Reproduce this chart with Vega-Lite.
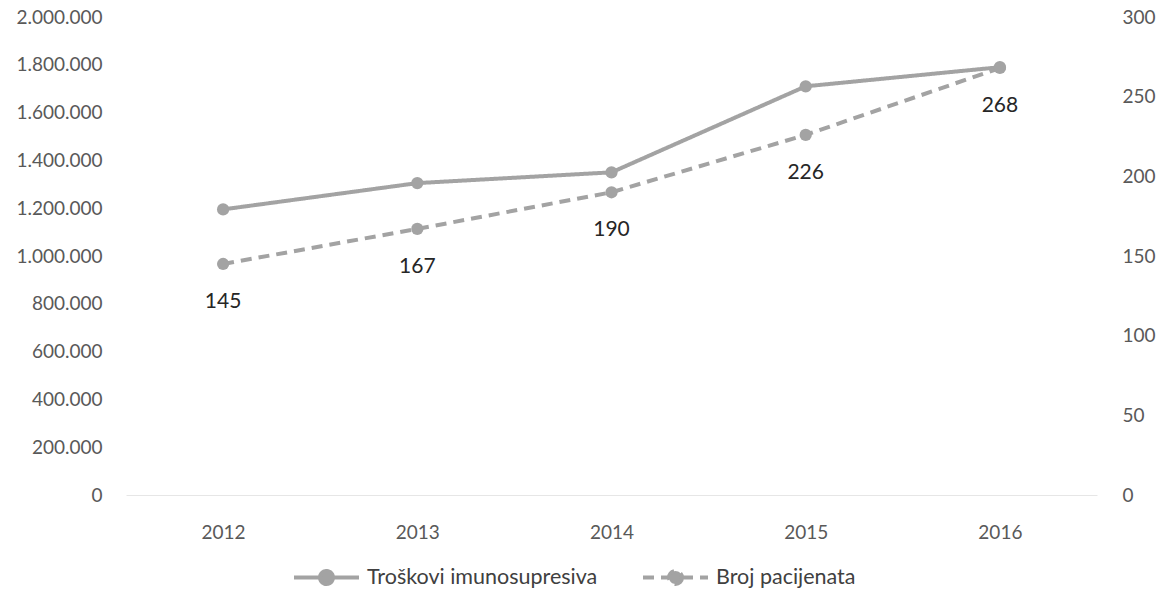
{
  "$schema": "https://vega.github.io/schema/vega-lite/v6.json",
  "width": 971,
  "height": 478,
  "autosize": {"type": "none"},
  "padding": {"left": 126, "top": 17, "right": 63, "bottom": 95},
  "background": "white",
  "config": {
    "view": {"stroke": null},
    "font": "Lato",
    "axis": {"labelFont": "Lato", "labelColor": "#595959", "labelFontSize": 19, "ticks": false, "grid": false, "title": null}
  },
  "data": {
    "values": [
      {"year": "2012", "series": "Troškovi imunosupresiva", "value": 1195000},
      {"year": "2013", "series": "Troškovi imunosupresiva", "value": 1305000},
      {"year": "2014", "series": "Troškovi imunosupresiva", "value": 1350000},
      {"year": "2015", "series": "Troškovi imunosupresiva", "value": 1710000},
      {"year": "2016", "series": "Troškovi imunosupresiva", "value": 1790000},
      {"year": "2012", "series": "Broj pacijenata", "value": 145},
      {"year": "2013", "series": "Broj pacijenata", "value": 167},
      {"year": "2014", "series": "Broj pacijenata", "value": 190},
      {"year": "2015", "series": "Broj pacijenata", "value": 226},
      {"year": "2016", "series": "Broj pacijenata", "value": 268}
    ]
  },
  "encoding": {
    "x": {
      "field": "year",
      "type": "ordinal",
      "scale": {"type": "point", "padding": 0.5},
      "axis": {"labelAngle": 0, "domain": true, "domainColor": "#e6e6e6", "domainWidth": 1, "labelPadding": 28}
    }
  },
  "layer": [
    {
      "transform": [{"filter": "datum.series === 'Troškovi imunosupresiva'"}],
      "mark": {"type": "line", "strokeWidth": 4, "point": {"size": 150, "filled": true}},
      "encoding": {
        "y": {
          "field": "value",
          "type": "quantitative",
          "scale": {"domain": [0, 2000000]},
          "axis": {
            "orient": "left",
            "domain": false,
            "labelPadding": 24,
            "values": [0, 200000, 400000, 600000, 800000, 1000000, 1200000, 1400000, 1600000, 1800000, 2000000],
            "labelExpr": "replace(replace(format(datum.value, ','), ',', '.'), ',', '.')"
          }
        },
        "color": {
          "field": "series",
          "type": "nominal",
          "scale": {"domain": ["Troškovi imunosupresiva", "Broj pacijenata"], "range": ["#a3a3a3", "#a3a3a3"]},
          "legend": {
            "orient": "none",
            "legendX": 166,
            "legendY": 526,
            "direction": "horizontal",
            "title": null,
            "padding": 0,
            "labelFont": "Lato",
            "labelFontSize": 21.5,
            "labelColor": "#404040",
            "labelOffset": 6,
            "labelLimit": 500,
            "columnPadding": 37,
            "symbolType": "M-1,0L-0.2,0M0.2,0L1,0M0.2,0A0.2,0.2,0,1,1,-0.2,0A0.2,0.2,0,1,1,0.2,0Z",
            "symbolSize": 4225,
            "symbolStrokeWidth": 4,
            "encode": {"symbols": {"update": {"fill": {"value": "#a3a3a3"}}}}
          }
        },
        "strokeDash": {
          "field": "series",
          "type": "nominal",
          "scale": {"domain": ["Troškovi imunosupresiva", "Broj pacijenata"], "range": [[1, 0], [11, 7]]}
        }
      }
    },
    {
      "transform": [{"filter": "datum.series === 'Broj pacijenata'"}],
      "encoding": {
        "y": {
          "field": "value",
          "type": "quantitative",
          "scale": {"domain": [0, 300]},
          "axis": {
            "orient": "right",
            "domain": false,
            "labelPadding": 25,
            "values": [0, 50, 100, 150, 200, 250, 300]
          }
        }
      },
      "layer": [
        {
          "mark": {"type": "line", "strokeWidth": 4, "point": {"size": 150, "filled": true}},
          "encoding": {
            "color": {
              "field": "series",
              "type": "nominal",
              "scale": {"domain": ["Troškovi imunosupresiva", "Broj pacijenata"], "range": ["#a3a3a3", "#a3a3a3"]}
            },
            "strokeDash": {
              "field": "series",
              "type": "nominal",
              "scale": {"domain": ["Troškovi imunosupresiva", "Broj pacijenata"], "range": [[1, 0], [11, 7]]}
            }
          }
        },
        {
          "mark": {"type": "text", "dy": 38, "font": "Lato", "fontSize": 21, "color": "#262626"},
          "encoding": {"text": {"field": "value", "type": "quantitative"}}
        }
      ]
    }
  ],
  "resolve": {"scale": {"y": "independent"}}
}
